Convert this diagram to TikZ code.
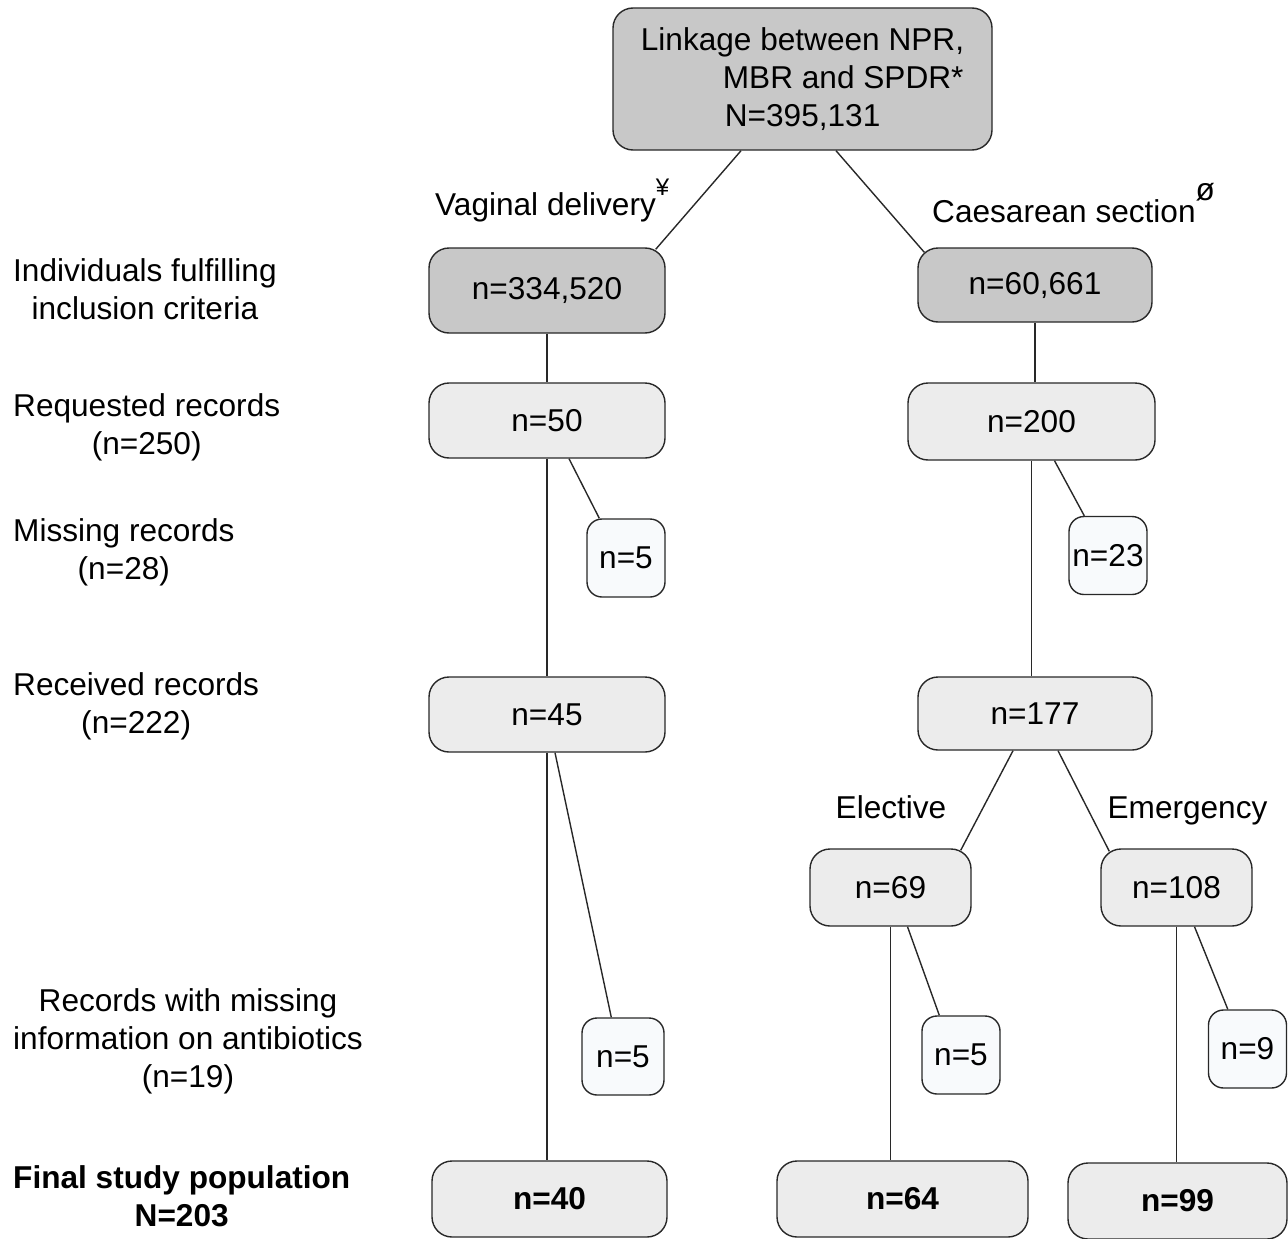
\documentclass[tikz,border=0pt]{standalone}
\usepackage{fontspec}
\setmainfont{Liberation Sans}
\usetikzlibrary{calc,positioning}
\definecolor{BoxDark}{RGB}{200,200,200}
\definecolor{BoxLight}{RGB}{236,236,236}
\definecolor{BoxPale}{RGB}{248,250,252}
\definecolor{EdgeGray}{RGB}{40,40,40}

\begin{document}
\begin{tikzpicture}[x=1pt,y=-1pt,
    every node/.style={font=\fontsize{31.6}{38}\selectfont},
    box/.style={draw=EdgeGray,line width=1.4pt,rounded corners=20pt,inner sep=0pt},
    darkbox/.style={box,fill=BoxDark},
    lightbox/.style={box,fill=BoxLight},
    smallbox/.style={box,fill=BoxPale,rounded corners=15pt,minimum width=78,minimum height=78},
    finalbox/.style={lightbox,font=\fontsize{31.6}{38}\selectfont\bfseries},
    sidelabel/.style={anchor=north west,align=center,inner sep=0pt},
    conn/.style={line width=1.4pt,EdgeGray}]
  \useasboundingbox (0,0) rectangle (1288,1239);

  % registers and the two delivery groups
  \node[darkbox,minimum width=379,minimum height=142,align=left] (linkage) at (802.5,79)
    {Linkage between NPR,\\\hspace*{82pt}MBR and SPDR*\\\hspace*{84pt}N=395,131};
  \node[darkbox,minimum width=236,minimum height=85] (vag) at (547,290.5) {n=334,520};
  \node[darkbox,minimum width=234,minimum height=74] (ces) at (1035,285) {n=60,661};
  \node[anchor=base west,inner sep=0pt] (vlab) at (435,215)
    {Vaginal delivery\raisebox{20pt}{\fontsize{24}{24}\selectfont ¥}};
  \node[anchor=base west,inner sep=0pt] (clab) at (932,222)
    {Caesarean section\raisebox{22pt}{ø}};

  % records
  \node[lightbox,minimum width=236,minimum height=75] (vreq) at (547,420.5) {n=50};
  \node[lightbox,minimum width=247,minimum height=77] (creq) at (1031.5,421.5) {n=200};
  \node[smallbox] (vmiss) at (626,558) {n=5};
  \node[smallbox] (cmiss) at (1108,555.5) {n=23};
  \node[lightbox,minimum width=236,minimum height=75] (vrec) at (547,714.5) {n=45};
  \node[lightbox,minimum width=234,minimum height=73] (crec) at (1035,713.5) {n=177};

  % elective / emergency
  \node[anchor=base] (elab) at (891,818) {Elective};
  \node[anchor=base] (mlab) at (1187.5,818) {Emergency};
  \node[lightbox,minimum width=161,minimum height=77] (elec) at (890.5,887.5) {n=69};
  \node[lightbox,minimum width=151,minimum height=77] (emer) at (1176.5,887.5) {n=108};
  \node[smallbox,minimum width=82,minimum height=77] (vabx) at (623,1056.5) {n=5};
  \node[smallbox] (eabx) at (961,1055) {n=5};
  \node[smallbox] (mabx) at (1247.5,1049) {n=9};

  % final population
  \node[finalbox,minimum width=235,minimum height=76] (vfin) at (549.5,1199) {n=40};
  \node[finalbox,minimum width=251,minimum height=76] (efin) at (902.5,1199) {n=64};
  \node[finalbox,minimum width=219,minimum height=76] (mfin) at (1177.5,1201) {n=99};

  % row labels
  \node[sidelabel] (incl) at (13,258) {Individuals fulfilling\\inclusion criteria};
  \node[sidelabel] (reqd) at (13,393) {Requested records\\(n=250)};
  \node[sidelabel] (miss) at (13,518) {Missing records\\(n=28)};
  \node[sidelabel] (recv) at (13,672) {Received records\\(n=222)};
  \node[sidelabel] (abx) at (13,988) {Records with missing\\information on antibiotics\\(n=19)};
  \node[sidelabel,font=\fontsize{31.6}{38}\selectfont\bfseries] (final) at (13,1165)
    {Final study population\\N=203};

  % connectors
  \draw[conn] ($(linkage.south)+(-61.5,0)$) -- ($(vag.north east)+(-10,2)$);
  \draw[conn] ($(linkage.south)+(33.5,0)$) -- ($(ces.north west)+(7,5)$);
  \draw[conn] (vag) -- (vreq);
  \draw[conn] (ces.south) -- (ces.south |- creq.north);
  \draw[conn] ($(vreq.south)+(22,0)$) -- ($(vmiss.north west)+(13,0)$);
  \draw[conn] ($(creq.south)+(23,0)$) -- ($(cmiss.north west)+(16,0)$);
  \draw[conn] (vreq) -- (vrec);
  \draw[conn] (creq.south) -- (creq.south |- crec.north);
  \draw[conn] (vrec.south) -- (vrec.south |- vfin.north);
  \draw[conn] ($(vrec.south)+(8,0)$) -- ($(vabx.north west)+(30,0)$);
  \draw[conn] ($(crec.south)+(-22,0)$) -- ($(elec.north east)+(-11,2)$);
  \draw[conn] ($(crec.south)+(23,0)$) -- ($(emer.north west)+(9,3)$);
  \draw[conn] (elec.south) -- (elec.south |- efin.north);
  \draw[conn] ($(elec.south)+(17,0)$) -- ($(eabx.north west)+(18,0)$);
  \draw[conn] (emer.south) -- (emer.south |- mfin.north);
  \draw[conn] ($(emer.south)+(18,0)$) -- ($(mabx.north west)+(20,0)$);
\end{tikzpicture}
\end{document}
